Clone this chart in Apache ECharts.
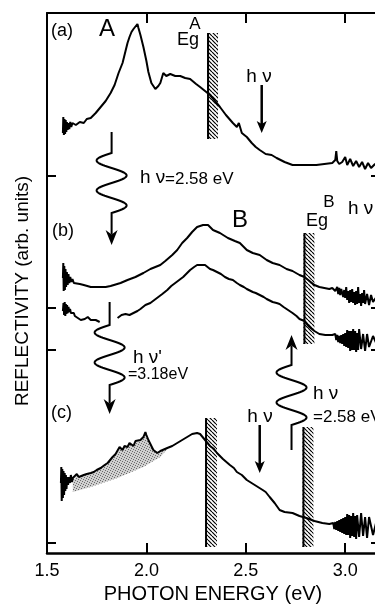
<!DOCTYPE html>
<html><head><meta charset="utf-8">
<script src="https://cdn.jsdelivr.net/npm/echarts@6/dist/echarts.min.js"></script>
<style>html,body{margin:0;padding:0;background:#fff}#c{width:375px;height:605px}</style>
</head><body><div id="c"></div>
<script>
const xTickLabels = ['1.5','2.0','2.5','3.0'];
const yTickValues = [10, 203, 245, 377];
const xMin = 1.5, xMax = 3.17, yMin = 0, yMax = 540;

const curveA = [[1.580,420],[1.582,436],[1.585,418],[1.588,434],[1.591,419],[1.594,433],[1.597,421],[1.600,431],[1.604,423],[1.608,430],[1.612,424],[1.617,431],[1.622,426],[1.628,430],[1.645,428],[1.665,431],[1.685,430],[1.70,434],[1.72,435],[1.745,440],[1.77,446],[1.795,452],[1.82,460],[1.84,468],[1.86,480],[1.87,482],[1.88,490],[1.895,502],[1.905,510],[1.915,516],[1.925,521],[1.935,524],[1.945,522],[1.955,529],[1.96,525],[1.97,518],[1.985,506],[2.0,492],[2.01,481],[2.025,470],[2.045,464],[2.06,467],[2.07,470],[2.085,480],[2.1,477],[2.12,479],[2.145,477],[2.17,477],[2.195,475],[2.22,474],[2.25,469],[2.27,466],[2.295,462],[2.32,458],[2.345,452],[2.37,446],[2.4,438],[2.435,430],[2.455,426],[2.465,430],[2.48,420],[2.505,416],[2.53,410],[2.55,406],[2.57,403],[2.6,399],[2.63,398],[2.655,395],[2.695,391],[2.735,388],[2.77,388],[2.82,388],[2.855,388],[2.895,389],[2.935,390],[2.95,393],[2.955,402],[2.96,392],[2.97,389],[2.985,391],[3.0,396],[3.01,388],[3.025,394],[3.04,387],[3.055,392],[3.07,386],[3.085,391],[3.1,384],[3.115,390],[3.13,385],[3.15,389],[3.17,387]];

const curveB1 = [[1.580,275],[1.582,290],[1.584,262],[1.587,287],[1.590,263],[1.593,284],[1.596,266],[1.600,281],[1.604,268],[1.608,279],[1.612,270],[1.617,276],[1.622,271],[1.628,274],[1.635,270],[1.645,271],[1.665,269],[1.685,268],[1.72,266],[1.77,266],[1.795,266],[1.82,267],[1.87,270],[1.905,273],[1.945,276],[1.985,280],[2.02,284],[2.07,288],[2.095,292],[2.13,298],[2.155,303],[2.18,310],[2.205,315],[2.23,321],[2.255,326],[2.285,328],[2.31,328],[2.335,323],[2.37,320],[2.41,315],[2.445,312],[2.47,310],[2.505,303],[2.535,300],[2.57,298],[2.605,293],[2.635,290],[2.67,288],[2.705,284],[2.735,282],[2.77,278],[2.795,276],[2.82,272],[2.845,268],[2.87,266],[2.895,265],[2.92,264],[2.935,265],[2.95,262],[2.96,266],[2.965,259],[2.97,265],[2.975,258],[2.98,264],[2.99,256],[2.995,263],[3.0,255],[3.005,266],[3.01,253],[3.015,262],[3.02,250],[3.025,263],[3.03,251],[3.035,264],[3.04,250],[3.045,261],[3.05,248],[3.055,262],[3.06,249],[3.065,266],[3.07,250],[3.075,259],[3.08,247],[3.085,260],[3.09,250],[3.095,263],[3.1,249],[3.11,259],[3.12,248],[3.13,258],[3.14,251],[3.16,257],[3.17,253]];

const curveB2a = [[1.580,242],[1.583,250],[1.586,238],[1.589,251],[1.592,237],[1.595,249],[1.598,239],[1.601,248],[1.604,240],[1.608,246],[1.612,241],[1.616,244],[1.620,240],[1.625,242],[1.630,238],[1.635,240],[1.64,237],[1.648,238],[1.655,235],[1.662,236],[1.67,233],[1.68,235],[1.69,234],[1.705,236],[1.72,233],[1.745,233],[1.765,231]];

const curveB2b = [[1.855,235],[1.875,238],[1.895,239],[1.915,238],[1.935,240],[1.955,242],[1.97,244],[1.995,248],[2.02,250],[2.04,253],[2.06,256],[2.08,259],[2.105,263],[2.125,267],[2.145,270],[2.165,273],[2.185,276],[2.2,279],[2.22,283],[2.24,286],[2.255,288],[2.27,288],[2.295,288],[2.32,284],[2.335,283],[2.355,281],[2.375,279],[2.395,276],[2.415,274],[2.435,273],[2.455,270],[2.47,268],[2.49,266],[2.505,264],[2.535,261],[2.55,260],[2.57,258],[2.59,256],[2.605,254],[2.635,251],[2.655,250],[2.67,249],[2.69,246],[2.705,244],[2.735,240],[2.755,237],[2.77,234],[2.795,232],[2.82,226],[2.845,222],[2.87,219],[2.9,218],[2.935,218],[2.95,219],[2.955,213],[2.96,218],[2.965,211],[2.97,217],[2.975,210],[2.98,218],[2.985,209],[2.99,219],[2.995,207],[3.0,220],[3.005,206],[3.01,223],[3.015,205],[3.02,222],[3.025,202],[3.03,222],[3.035,203],[3.04,224],[3.045,203],[3.05,222],[3.055,201],[3.06,220],[3.065,203],[3.07,224],[3.08,204],[3.09,219],[3.1,202],[3.11,219],[3.12,206],[3.14,217],[3.16,208],[3.17,213]];

const curveC = [[1.570,70],[1.572,86],[1.574,52],[1.577,84],[1.580,55],[1.583,82],[1.586,58],[1.589,80],[1.592,62],[1.595,78],[1.598,64],[1.602,76],[1.606,68],[1.610,76],[1.615,70],[1.62,78],[1.625,71],[1.63,75],[1.64,74],[1.65,79],[1.66,76],[1.67,76],[1.685,78],[1.7,79],[1.72,80],[1.735,81],[1.75,83],[1.77,85],[1.79,88],[1.805,90],[1.83,96],[1.845,99],[1.855,101],[1.865,106],[1.87,104],[1.88,103],[1.89,107],[1.905,106],[1.915,110],[1.92,109],[1.935,107],[1.945,112],[1.955,111],[1.97,113],[1.985,116],[1.995,121],[2.0,118],[2.01,113],[2.02,109],[2.035,103],[2.055,100],[2.07,102],[2.08,103],[2.105,105],[2.13,107],[2.155,110],[2.18,113],[2.205,116],[2.23,119],[2.255,120],[2.27,119],[2.295,113],[2.32,107],[2.34,104],[2.355,100],[2.385,94],[2.42,88],[2.44,85],[2.455,81],[2.48,78],[2.505,73],[2.545,68],[2.585,63],[2.6,61],[2.62,56],[2.645,50],[2.67,43],[2.695,41],[2.735,40],[2.77,37],[2.805,35],[2.845,32],[2.885,30],[2.92,29],[2.94,30],[2.945,24],[2.95,31],[2.955,23],[2.96,32],[2.965,22],[2.97,33],[2.975,21],[2.98,34],[2.985,20],[2.99,35],[2.995,19],[3.0,36],[3.005,18],[3.01,39],[3.015,18],[3.02,38],[3.025,15],[3.03,37],[3.035,17],[3.04,40],[3.045,16],[3.05,37],[3.055,14],[3.06,38],[3.07,16],[3.08,40],[3.09,17],[3.1,36],[3.11,15],[3.12,36],[3.14,18],[3.16,34],[3.17,26]];

const shadeLower = [[1.63,61],[1.72,66],[1.855,75],[1.985,86],[2.07,96],[2.11,105]];
const shadeRange = [1.63, 2.11];

// [x0, x1, top, bottom]
const egBars = [[2.305,2.36,520,414],[2.79,2.845,320,209],[2.295,2.355,135,6],[2.785,2.84,126,6]];
// [x, from, tip]
const straightArrows = [[2.58,468,420],[2.57,128,80]];
// [x, start, waveStart, waveEnd, tip]
const wavyArrows = [[1.825,421,400,340,308],[1.815,251,228,168,139],[2.73,103,128,188,218]];

const FONT = '"Liberation Sans", Arial, Helvetica, sans-serif';

function makePattern(size, draw){
  const c = document.createElement('canvas'); c.width = c.height = size;
  const g = c.getContext('2d'); draw(g, size);
  return {image: c, repeat: 'repeat'};
}
const hatch = makePattern(4, (g,s)=>{
  g.fillStyle='#fff'; g.fillRect(0,0,s,s);
  g.strokeStyle='#000'; g.lineWidth=1.2; g.beginPath();
  for (const k of [-s,0,s]) { g.moveTo(k,0); g.lineTo(k+s,s); }
  g.stroke();
});
const stipple = makePattern(5, (g,s)=>{
  g.fillStyle='#d0d0d0'; g.fillRect(0,0,s,s);
  g.fillStyle='#6a6a6a';
  [[0,0],[2,1],[4,2],[1,3],[3,4]].forEach(p=>g.fillRect(p[0],p[1],1,1));
});

const chart = echarts.init(document.getElementById('c'), null, {renderer:'canvas'});

function lineSeries(data){
  return {type:'line', data, symbol:'none', silent:true, z:5, animation:false,
    lineStyle:{color:'#000', width:2}};
}

function txt(text, x, y, size, align, extra){
  return Object.assign({type:'text', x, y, z:100, silent:true,
    style:{text, font:size+'px '+FONT, fill:'#000', textAlign:align||'left', textVerticalAlign:'middle'}}, extra||{});
}

const option = {
  animation:false,
  grid:{left:47, right:-4, top:13, bottom:52, containLabel:false, outerBoundsMode:'none'},
  xAxis:[{
    type:'value', min:xMin, max:xMax, interval:0.5, position:'bottom',
    axisLine:{lineStyle:{color:'#000', width:2.5}},
    axisTick:{inside:true, length:10, lineStyle:{color:'#000', width:2}},
    axisLabel:{color:'#000', fontSize:18, fontFamily:FONT, margin:9, showMaxLabel:false,
      formatter:v=>{ const s=v.toFixed(1); return (Math.abs(v*10-Math.round(v*10))<1e-6 && xTickLabels.includes(s)) ? s : ''; }},
    splitLine:{show:false},
    name:'PHOTON ENERGY (eV)', nameLocation:'middle', nameGap:31,
    nameTextStyle:{color:'#000', fontSize:20, fontFamily:FONT}
  },{
    type:'value', min:xMin, max:xMax, interval:0.5, position:'top',
    axisLine:{lineStyle:{color:'#000', width:2}},
    axisTick:{inside:true, length:10, lineStyle:{color:'#000', width:2}},
    axisLabel:{show:false}, splitLine:{show:false}
  }],
  yAxis:{type:'value', min:yMin, max:yMax,
    axisLine:{show:true, lineStyle:{color:'#000', width:2}},
    axisTick:{show:false}, axisLabel:{show:false}, splitLine:{show:false}},
  series:[
    {type:'custom', silent:true, z:2, data:[[shadeRange[0],0]],
      renderItem:(p,api)=>{
        const up = curveC.filter(d=>d[0]>=shadeRange[0] && d[0]<=shadeRange[1]);
        const pts = up.map(d=>api.coord(d)).concat(shadeLower.slice().reverse().map(d=>api.coord(d)));
        return {type:'polygon', shape:{points:pts}, style:{fill:stipple, stroke:null}};
      }},
    {type:'custom', silent:true, z:3, data:egBars.map(b=>[b[0],b[2]]),
      renderItem:(p,api)=>{
        const b = egBars[p.dataIndex];
        const tl = api.coord([b[0],b[2]]), br = api.coord([b[1],b[3]]);
        return {type:'group', children:[
          {type:'rect', shape:{x:tl[0], y:tl[1], width:br[0]-tl[0], height:br[1]-tl[1]}, style:{fill:hatch, stroke:null}},
          {type:'line', shape:{x1:tl[0]+1, y1:tl[1], x2:tl[0]+1, y2:br[1]}, style:{stroke:'#000', lineWidth:2}}
        ]};
      }},
    lineSeries(curveA), lineSeries(curveB1), lineSeries(curveB2a), lineSeries(curveB2b), lineSeries(curveC),
    {type:'custom', silent:true, z:6, data:yTickValues.map(v=>[xMin,v]),
      renderItem:(p,api)=>{
        const v = api.value(1);
        const L = api.coord([xMin,v]), R = api.coord([xMax,v]);
        return {type:'group', children:[
          {type:'line', shape:{x1:L[0], y1:L[1], x2:L[0]+9, y2:L[1]}, style:{stroke:'#000', lineWidth:2}},
          {type:'line', shape:{x1:R[0]-8, y1:R[1], x2:R[0], y2:R[1]}, style:{stroke:'#000', lineWidth:2}}
        ]};
      }},
    {type:'custom', silent:true, z:7, data:straightArrows.map(a=>[a[0],a[1]]),
      renderItem:(p,api)=>{
        const a = straightArrows[p.dataIndex];
        const s = api.coord([a[0],a[1]]), t = api.coord([a[0],a[2]]);
        const d = Math.sign(t[1]-s[1]), hh=12, hw=5;
        const base = t[1]-d*hh*0.75;
        return {type:'group', children:[
          {type:'line', shape:{x1:s[0], y1:s[1], x2:s[0], y2:base}, style:{stroke:'#000', lineWidth:2.5}},
          {type:'polygon', shape:{points:[[t[0],t[1]],[t[0]-hw,t[1]-d*hh],[t[0],base],[t[0]+hw,t[1]-d*hh]]}, style:{fill:'#000'}}
        ]};
      }},
    {type:'custom', silent:true, z:7, data:wavyArrows.map(a=>[a[0],a[1]]),
      renderItem:(p,api)=>{
        const a = wavyArrows[p.dataIndex];
        const s = api.coord([a[0],a[1]]), w0 = api.coord([a[0],a[2]]), w1 = api.coord([a[0],a[3]]), t = api.coord([a[0],a[4]]);
        const d = Math.sign(t[1]-s[1]);
        const x = s[0], A = 15, cycles = 2, side = d>0 ? -1 : 1;
        const pts = [[x,s[1]]];
        const n = 80;
        for (let i=0;i<=n;i++){ const f=i/n; pts.push([x+side*A*Math.sin(2*Math.PI*cycles*f), w0[1]+(w1[1]-w0[1])*f]); }
        const hh=15, hw=6, base=t[1]-d*hh*0.7;
        pts.push([x, base]);
        return {type:'group', children:[
          {type:'polyline', shape:{points:pts}, style:{stroke:'#000', lineWidth:2, fill:null}},
          {type:'polygon', shape:{points:[[x,t[1]],[x-hw,t[1]-d*hh],[x,base],[x+hw,t[1]-d*hh]]}, style:{fill:'#000'}}
        ]};
      }}
  ],
  graphic:[
    txt('REFLECTIVITY (arb. units)', 23, 291, 19, 'center', {rotation:Math.PI/2}),
    txt('(a)', 51, 31, 18),
    txt('A', 99, 29, 24),
    txt('Eg', 177, 40, 18),
    txt('A', 195, 24, 17, 'center'),
    txt('h ν', 259, 77, 19, 'center'),
    txt('h ν', 140, 178, 19),
    txt('=2.58 eV', 165, 179, 17),
    txt('(b)', 52, 231, 18),
    txt('B', 240, 220, 24, 'center'),
    txt('Eg', 306, 221, 18),
    txt('B', 329, 202, 17, 'center'),
    txt('h ν', 348, 209, 19),
    txt("h ν'", 133, 358, 19),
    txt('=3.18eV', 128, 375, 16),
    txt('(c)', 51, 413, 18),
    txt('h ν', 260, 417, 19, 'center'),
    txt('h ν', 313, 394, 19),
    txt('=2.58 eV', 313, 417, 17)
  ]
};
chart.setOption(option);
</script>
</body></html>
